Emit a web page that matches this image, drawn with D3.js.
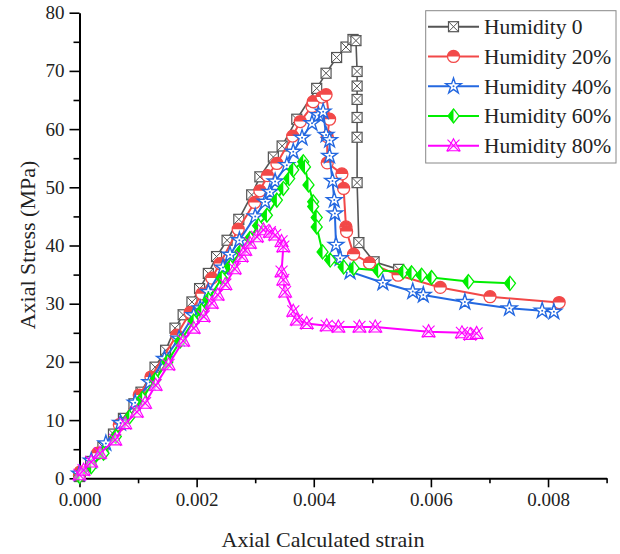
<!DOCTYPE html>
<html>
<head>
<meta charset="utf-8">
<script src="https://cdn.jsdelivr.net/npm/d3@7"></script>
<style>
  body { margin: 0; background: #fff; }
  text { font-family: "Liberation Serif", "Times New Roman", serif; fill: #222; }
</style>
</head>
<body>
<svg id="chart" width="620" height="554"></svg>
<script>
// [strain, stress MPa]
const h0 = [
  [0.00000, 0.3], [0.00019, 2.9], [0.00040, 5.4], [0.00058, 7.6], [0.00075, 10.3],
  [0.00093, 12.8], [0.00105, 14.8], [0.00129, 19.1], [0.00147, 22.0], [0.00163, 25.8],
  [0.00177, 28.1], [0.00192, 30.3], [0.00205, 32.6], [0.00220, 35.2], [0.00234, 38.1],
  [0.00252, 40.9], [0.00272, 44.5], [0.00294, 48.7], [0.00308, 51.8], [0.00331, 55.2],
  [0.00346, 57.1], [0.00371, 61.7], [0.00405, 67.0], [0.00421, 69.6], [0.00439, 72.3],
  [0.00455, 74.1], [0.00467, 75.4], [0.00472, 75.2], [0.00474, 69.9], [0.00474, 67.4],
  [0.00474, 65.1], [0.00474, 62.0], [0.00474, 58.6], [0.00474, 50.8], [0.00477, 40.5],
  [0.00503, 37.2], [0.00545, 35.9]
];
const h20 = [
  [0.00000, 0.5], [0.00001, 1.1], [0.00031, 4.3], [0.00068, 9.2], [0.00102, 14.3],
  [0.00122, 17.4], [0.00166, 24.6], [0.00189, 28.5], [0.00209, 31.7], [0.00226, 34.4],
  [0.00240, 36.9], [0.00271, 42.8], [0.00299, 47.4], [0.00308, 49.4], [0.00321, 52.0],
  [0.00337, 54.1], [0.00364, 58.8], [0.00377, 61.3], [0.00397, 63.9], [0.00399, 64.7],
  [0.00414, 65.5], [0.00421, 65.9], [0.00427, 61.7], [0.00423, 58.7], [0.00423, 54.2],
  [0.00448, 52.3], [0.00451, 49.8], [0.00455, 43.2], [0.00456, 42.4], [0.00468, 38.5],
  [0.00495, 37.0], [0.00544, 34.9], [0.00616, 32.8], [0.00701, 31.2], [0.00819, 30.2]
];
const h40 = [
  [0.00000, 0.8], [0.00020, 3.0], [0.00045, 6.0], [0.00070, 9.5], [0.00095, 13.0],
  [0.00120, 16.5], [0.00145, 20.5], [0.00170, 24.0], [0.00195, 28.0], [0.00206, 29.2],
  [0.00220, 32.0], [0.00245, 36.2], [0.00257, 38.4], [0.00273, 40.9], [0.00300, 45.0],
  [0.00317, 47.5], [0.00325, 49.2], [0.00334, 51.0], [0.00354, 53.8], [0.00365, 56.1],
  [0.00380, 58.5], [0.00397, 61.0], [0.00408, 62.4], [0.00416, 63.0], [0.00421, 59.0],
  [0.00427, 58.1], [0.00427, 55.4], [0.00432, 51.1], [0.00435, 47.8], [0.00436, 45.5],
  [0.00438, 40.1], [0.00445, 37.8], [0.00462, 35.5], [0.00518, 33.6], [0.00569, 32.1],
  [0.00587, 31.5], [0.00658, 30.3], [0.00734, 29.2], [0.00790, 28.8], [0.00810, 28.6]
];
const h60 = [
  [0.00000, 0.3], [0.00020, 2.0], [0.00041, 4.3], [0.00062, 7.2], [0.00085, 10.5],
  [0.00107, 13.7], [0.00129, 16.9], [0.00150, 20.0], [0.00172, 23.6], [0.00195, 27.0],
  [0.00208, 28.8], [0.00220, 30.7], [0.00243, 34.4], [0.00257, 36.4], [0.00275, 39.0],
  [0.00291, 41.2], [0.00305, 43.4], [0.00320, 45.2], [0.00337, 47.8], [0.00348, 49.8],
  [0.00358, 51.5], [0.00365, 53.0], [0.00382, 54.4], [0.00385, 53.5], [0.00391, 50.4],
  [0.00399, 47.5], [0.00399, 46.7], [0.00405, 44.8], [0.00405, 43.2], [0.00415, 38.9],
  [0.00428, 37.5], [0.00451, 36.3], [0.00468, 36.1], [0.00510, 35.7], [0.00553, 35.5],
  [0.00567, 35.3], [0.00584, 34.9], [0.00601, 34.5], [0.00664, 33.8], [0.00735, 33.5]
];
const h80 = [
  [0.00000, 0.6], [0.00007, 1.4], [0.00020, 2.8], [0.00035, 4.3], [0.00061, 6.6],
  [0.00078, 9.4], [0.00098, 11.4], [0.00112, 12.9], [0.00130, 16.0], [0.00152, 19.5],
  [0.00177, 23.6], [0.00195, 25.8], [0.00212, 27.8], [0.00226, 30.1], [0.00236, 31.5],
  [0.00249, 33.3], [0.00265, 36.0], [0.00277, 38.1], [0.00283, 39.2], [0.00291, 40.4],
  [0.00303, 41.5], [0.00314, 42.7], [0.00325, 42.3], [0.00334, 41.8], [0.00345, 40.7],
  [0.00348, 39.8], [0.00345, 35.5], [0.00348, 34.1], [0.00351, 32.0], [0.00365, 28.7],
  [0.00371, 27.2], [0.00388, 26.6], [0.00422, 26.2], [0.00442, 26.0], [0.00478, 26.0],
  [0.00505, 26.0], [0.00596, 25.2], [0.00653, 25.0], [0.00667, 24.7], [0.00678, 24.9]
];

const seriesNames = ["Humidity 0", "Humidity 20%", "Humidity 40%", "Humidity 60%", "Humidity 80%"];
const seriesData = [h0, h20, h40, h60, h80];
const colors = ["#555555", "#f24848", "#2468e0", "#00ee00", "#ff00ff"];
const markerTypes = ["squareX", "halfCircle", "star", "halfDiamond", "triX"];

const xTicks = [0, 0.002, 0.004, 0.006, 0.008];
const xMinor = [0.001, 0.003, 0.005, 0.007, 0.009];
const yTicks = [0, 10, 20, 30, 40, 50, 60, 70, 80];
const yMinor = [5, 15, 25, 35, 45, 55, 65, 75];

const svg = d3.select("#chart");

const x = d3.scaleLinear().domain([0, 0.009]).range([79.5, 606.6]);
const y = d3.scaleLinear().domain([0, 80]).range([478.3, 12.7]);

// axes
svg.append("g").attr("transform", `translate(0,${y(0)})`)
  .call(d3.axisBottom(x).tickValues(xTicks).tickFormat(d3.format(".3f"))
    .tickSize(9).tickPadding(5).tickSizeOuter(0));
svg.append("g").attr("transform", `translate(0,${y(0)})`)
  .call(d3.axisBottom(x).tickValues(xMinor).tickFormat("").tickSize(5).tickSizeOuter(0))
  .select(".domain").remove();

svg.append("g").attr("transform", `translate(${x(0)},0)`)
  .call(d3.axisLeft(y).tickValues(yTicks).tickSize(10).tickPadding(5).tickSizeOuter(0));
svg.append("g").attr("transform", `translate(${x(0)},0)`)
  .call(d3.axisLeft(y).tickValues(yMinor).tickFormat("").tickSize(6).tickSizeOuter(0))
  .select(".domain").remove();

svg.selectAll(".domain").attr("stroke", "#000").attr("stroke-width", 2);
svg.selectAll(".tick line").attr("stroke", "#000").attr("stroke-width", 1.6);
svg.selectAll(".tick text").style("font-size", "19px").attr("fill", "#222");

svg.append("text").attr("x", 323).attr("y", 547).attr("text-anchor", "middle")
  .style("font-size", "22px").text("Axial Calculated strain");
svg.append("text").attr("transform", "translate(34.5,245) rotate(-90)")
  .attr("text-anchor", "middle").style("font-size", "22px").text("Axial Stress (MPa)");

function drawMarker(g, type, color) {
  if (type === "squareX") {
    g.append("rect").attr("x", -5).attr("y", -5).attr("width", 10).attr("height", 10)
      .attr("fill", "#fff").attr("stroke", color).attr("stroke-width", 1.2);
    g.append("path").attr("d", "M-5,-5L5,5M5,-5L-5,5").attr("stroke", color).attr("stroke-width", 1);
  } else if (type === "halfCircle") {
    g.append("circle").attr("r", 6).attr("fill", "#fff").attr("stroke", color).attr("stroke-width", 1.3);
    g.append("path").attr("d", "M-6,0A6,6 0 0 1 6,0Z").attr("fill", color);
  } else if (type === "star") {
    g.append("path").attr("d", d3.symbol(d3.symbolStar, 75)())
      .attr("fill", "#fff").attr("stroke", color).attr("stroke-width", 1.4);
    g.append("circle").attr("r", 1).attr("fill", color);
  } else if (type === "halfDiamond") {
    g.append("path").attr("d", "M0,-7L5.5,0L0,7L-5.5,0Z")
      .attr("fill", "#fff").attr("stroke", color).attr("stroke-width", 1.3);
    g.append("path").attr("d", "M0,-7L-5.5,0L0,7Z").attr("fill", color);
  } else if (type === "triX") {
    g.append("path").attr("d", "M0,-7L6.5,5L-6.5,5Z")
      .attr("fill", "#ffe0ff").attr("fill-opacity", 0.5).attr("stroke", color).attr("stroke-width", 1.1);
    g.append("path").attr("d", "M-6,-6L6,6M6,-6L-6,6").attr("stroke", color).attr("stroke-width", 1.1);
  }
}

const line = d3.line().x(d => x(d[0])).y(d => y(d[1]));

seriesData.forEach((data, i) => {
  const g = svg.append("g");
  g.append("path").datum(data).attr("d", line)
    .attr("fill", "none").attr("stroke", colors[i]).attr("stroke-width", i === 0 ? 1.6 : 2);
  g.selectAll(".m").data(data).enter().append("g")
    .attr("transform", d => `translate(${x(d[0])},${y(d[1])})`)
    .each(function () { drawMarker(d3.select(this), markerTypes[i], colors[i]); });
});

// legend
const legend = svg.append("g");
legend.append("rect").attr("x", 425.7).attr("y", 10.7).attr("width", 190.3).attr("height", 152.3)
  .attr("fill", "#fff").attr("stroke", "#888").attr("stroke-width", 1);
seriesNames.forEach((name, i) => {
  const cy = 26.7 + i * 29.75;
  legend.append("line").attr("x1", 428).attr("x2", 479).attr("y1", cy).attr("y2", cy)
    .attr("stroke", colors[i]).attr("stroke-width", 2);
  const mg = legend.append("g").attr("transform", `translate(453.5,${cy})`);
  drawMarker(mg, markerTypes[i], colors[i]);
  legend.append("text").attr("x", 484).attr("y", cy + 7.5)
    .style("font-size", "21.5px").text(name);
});
</script>
</body>
</html>
